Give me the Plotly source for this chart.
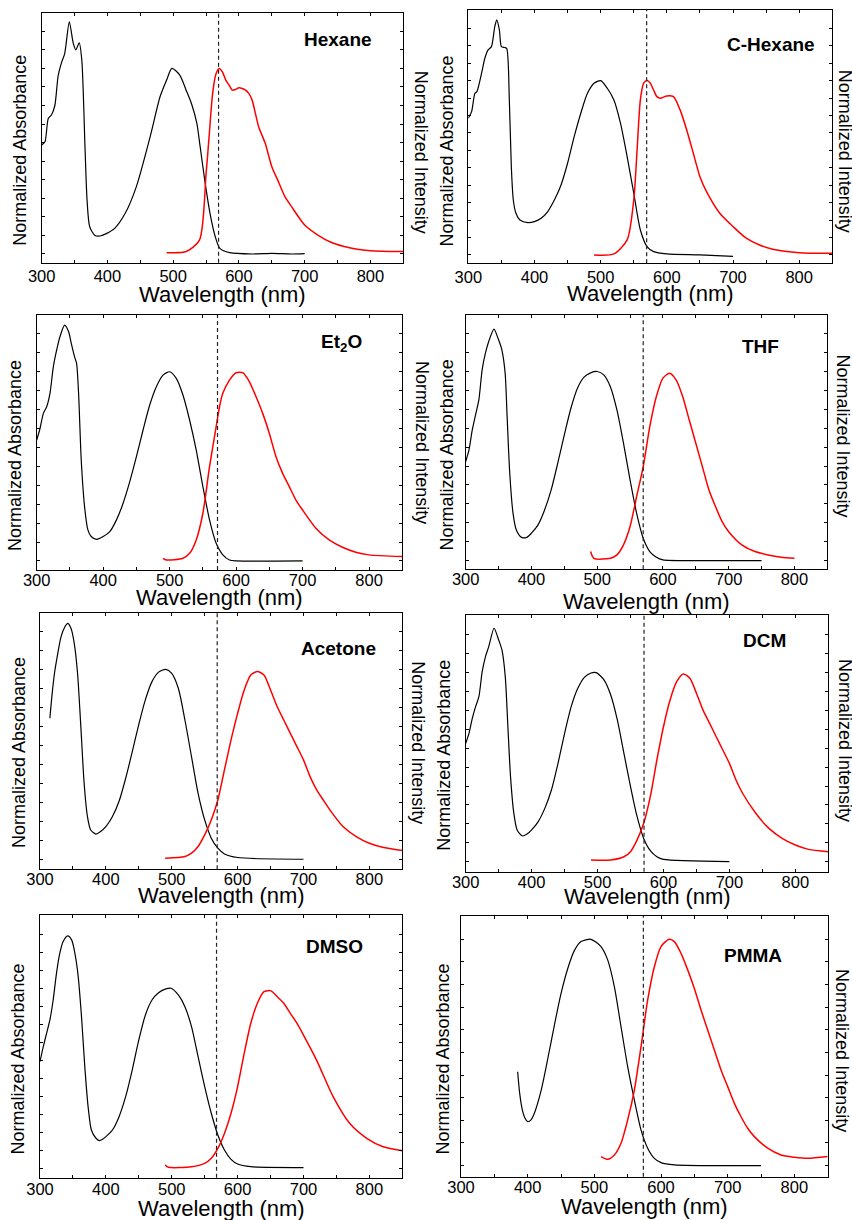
import plotly.graph_objects as go

W, H = 852, 1220

# ---------------- data ----------------
HEX_ABS_NM = [300, 305, 310, 315, 320, 325, 330, 335, 342, 348, 352, 357, 361, 366, 369, 373, 381, 389, 399, 411, 427, 444, 465, 480, 490, 498, 510, 520, 528, 536, 541, 548, 556, 564, 571, 586, 620, 650, 680, 700]
HEX_ABS = [0.587, 0.605, 0.73, 0.75, 0.80, 0.96, 1.03, 1.08, 1.251, 1.135, 1.10, 1.138, 1.045, 0.56, 0.29, 0.147, 0.10, 0.097, 0.111, 0.138, 0.219, 0.363, 0.632, 0.847, 0.937, 1.0, 0.964, 0.88, 0.808, 0.704, 0.578, 0.398, 0.219, 0.093, 0.03, 0.007, 0.0, 0.003, 0.0, 0.002]
HEX_EM_NM = [490, 520, 540, 550, 555, 560, 565, 570, 575, 580, 585, 590, 595, 600, 605, 610, 615, 620, 630, 640, 650, 660, 670, 680, 700, 720, 740, 760, 780, 800, 850]
HEX_EM = [0.007, 0.013, 0.075, 0.43, 0.65, 0.865, 0.97, 1.0, 0.98, 0.937, 0.91, 0.883, 0.887, 0.896, 0.892, 0.883, 0.865, 0.829, 0.686, 0.596, 0.47, 0.39, 0.309, 0.255, 0.156, 0.102, 0.063, 0.04, 0.025, 0.018, 0.013]

CHX_ABS_NM = [300, 305, 310, 313, 320, 325, 330, 335, 340, 343, 347, 350, 355, 358, 362, 365, 368, 372, 378, 390, 400, 410, 420, 430, 440, 450, 460, 470, 480, 490, 500, 510, 520, 530, 540, 550, 560, 570, 580, 600, 650, 700]
CHX_ABS = [0.784, 0.822, 0.927, 0.937, 1.042, 1.128, 1.176, 1.195, 1.31, 1.348, 1.29, 1.195, 1.19, 1.185, 0.889, 0.507, 0.315, 0.239, 0.2, 0.185, 0.191, 0.21, 0.249, 0.315, 0.40, 0.526, 0.679, 0.813, 0.927, 0.985, 1.0, 0.956, 0.889, 0.755, 0.564, 0.354, 0.143, 0.048, 0.019, 0.006, 0.0, -0.008]
CHX_EM_NM = [490, 520, 540, 550, 555, 560, 565, 570, 575, 580, 585, 590, 600, 610, 620, 630, 640, 650, 660, 680, 700, 720, 740, 760, 800, 850]
CHX_EM = [0.0, 0.006, 0.086, 0.315, 0.60, 0.889, 0.985, 1.0, 0.985, 0.946, 0.908, 0.899, 0.912, 0.908, 0.832, 0.717, 0.583, 0.449, 0.363, 0.239, 0.163, 0.096, 0.057, 0.033, 0.013, 0.01]

ET2O_ABS_NM = [300, 305, 310, 315, 320, 325, 330, 335, 342, 348, 352, 357, 360, 363, 367, 372, 377, 382, 390, 400, 410, 420, 430, 440, 450, 460, 470, 480, 490, 500, 510, 520, 530, 540, 550, 560, 570, 580, 590, 600, 700]
ET2O_ABS = [0.639, 0.70, 0.78, 0.815, 0.886, 1.026, 1.114, 1.185, 1.246, 1.211, 1.15, 1.079, 1.044, 0.886, 0.533, 0.287, 0.164, 0.129, 0.114, 0.129, 0.155, 0.217, 0.305, 0.419, 0.551, 0.692, 0.824, 0.921, 0.982, 1.0, 0.965, 0.877, 0.745, 0.586, 0.393, 0.217, 0.093, 0.032, 0.005, 0.0, 0.0]
ET2O_EM_NM = [490, 495, 520, 530, 540, 550, 560, 570, 575, 580, 590, 600, 610, 620, 630, 640, 650, 660, 670, 680, 690, 700, 720, 740, 760, 780, 800, 850]
ET2O_EM = [0.014, 0.005, 0.014, 0.04, 0.111, 0.252, 0.498, 0.71, 0.815, 0.886, 0.956, 0.995, 0.995, 0.947, 0.868, 0.78, 0.674, 0.551, 0.463, 0.393, 0.322, 0.269, 0.173, 0.111, 0.072, 0.046, 0.032, 0.023]

THF_ABS_NM = [300, 305, 310, 315, 320, 325, 330, 335, 343, 350, 355, 360, 363, 367, 372, 377, 385, 393, 400, 410, 420, 430, 440, 450, 460, 470, 480, 490, 500, 510, 520, 530, 540, 550, 560, 570, 580, 590, 600, 650, 750]
THF_ABS = [0.524, 0.586, 0.691, 0.771, 0.85, 1.009, 1.097, 1.159, 1.224, 1.168, 1.115, 0.991, 0.762, 0.462, 0.25, 0.162, 0.123, 0.123, 0.145, 0.189, 0.268, 0.374, 0.515, 0.665, 0.806, 0.912, 0.97, 0.993, 1.0, 0.982, 0.92, 0.797, 0.621, 0.427, 0.25, 0.118, 0.048, 0.018, 0.004, 0.0, 0.0]
THF_EM_NM = [490, 495, 520, 530, 540, 550, 560, 570, 580, 590, 600, 610, 620, 630, 640, 650, 660, 670, 680, 690, 700, 720, 740, 760, 780, 800]
THF_EM = [0.048, 0.012, 0.012, 0.03, 0.083, 0.18, 0.339, 0.497, 0.709, 0.868, 0.965, 0.991, 0.956, 0.868, 0.744, 0.621, 0.497, 0.374, 0.286, 0.206, 0.153, 0.083, 0.048, 0.03, 0.018, 0.012]

ACE_ABS_NM = [315, 318, 322, 327, 332, 338, 342, 347, 352, 357, 362, 367, 372, 377, 385, 392, 400, 410, 420, 430, 440, 450, 460, 470, 480, 491, 500, 510, 520, 530, 540, 550, 560, 570, 580, 600, 700]
ACE_ABS = [0.742, 0.856, 0.979, 1.084, 1.172, 1.225, 1.242, 1.216, 1.137, 0.979, 0.698, 0.40, 0.225, 0.154, 0.132, 0.146, 0.172, 0.225, 0.305, 0.425, 0.565, 0.71, 0.84, 0.935, 0.985, 1.0, 0.979, 0.90, 0.733, 0.54, 0.347, 0.207, 0.111, 0.058, 0.028, 0.009, 0.0]
ACE_EM_NM = [490, 520, 530, 540, 550, 560, 570, 580, 590, 600, 610, 620, 630, 640, 650, 660, 670, 680, 690, 700, 710, 720, 730, 740, 760, 780, 800, 820, 850]
ACE_EM = [0.005, 0.014, 0.032, 0.067, 0.128, 0.207, 0.312, 0.47, 0.628, 0.768, 0.891, 0.97, 0.988, 0.97, 0.891, 0.804, 0.733, 0.663, 0.593, 0.523, 0.435, 0.365, 0.312, 0.26, 0.172, 0.119, 0.084, 0.063, 0.046]

DCM_ABS_NM = [300, 305, 310, 315, 320, 325, 330, 335, 343, 350, 355, 360, 364, 368, 373, 378, 386, 393, 400, 410, 420, 430, 440, 450, 460, 470, 480, 490, 498, 510, 520, 530, 540, 550, 560, 570, 580, 590, 600, 700]
DCM_ABS = [0.626, 0.679, 0.758, 0.82, 0.873, 1.005, 1.085, 1.138, 1.235, 1.173, 1.12, 0.979, 0.714, 0.45, 0.256, 0.168, 0.136, 0.146, 0.168, 0.212, 0.282, 0.379, 0.52, 0.679, 0.82, 0.917, 0.975, 0.998, 1.0, 0.961, 0.882, 0.75, 0.573, 0.397, 0.238, 0.123, 0.058, 0.026, 0.012, 0.0]
DCM_EM_NM = [490, 520, 540, 550, 560, 570, 580, 590, 600, 610, 620, 630, 640, 650, 660, 670, 680, 690, 700, 710, 720, 740, 760, 780, 800, 820, 850]
DCM_EM = [0.009, 0.009, 0.026, 0.053, 0.115, 0.203, 0.344, 0.538, 0.714, 0.855, 0.952, 0.993, 0.97, 0.891, 0.802, 0.732, 0.661, 0.591, 0.52, 0.432, 0.362, 0.256, 0.176, 0.123, 0.088, 0.065, 0.053]

DMSO_ABS_NM = [300, 305, 310, 315, 320, 325, 330, 335, 342, 348, 353, 358, 363, 368, 373, 378, 385, 390, 395, 400, 410, 420, 430, 440, 450, 460, 470, 480, 490, 499, 510, 520, 530, 540, 550, 560, 570, 580, 590, 600, 620, 700]
DMSO_ABS = [0.593, 0.676, 0.75, 0.824, 0.935, 1.083, 1.194, 1.259, 1.291, 1.269, 1.194, 1.065, 0.843, 0.565, 0.343, 0.213, 0.167, 0.154, 0.161, 0.176, 0.213, 0.287, 0.398, 0.546, 0.713, 0.852, 0.935, 0.975, 0.995, 1.0, 0.963, 0.898, 0.787, 0.62, 0.454, 0.306, 0.185, 0.102, 0.05, 0.024, 0.009, 0.004]
DMSO_EM_NM = [490, 495, 530, 550, 560, 570, 580, 590, 600, 610, 620, 630, 640, 650, 660, 670, 680, 690, 700, 720, 745, 770, 796, 821, 850]
DMSO_EM = [0.019, 0.006, 0.009, 0.028, 0.056, 0.111, 0.194, 0.306, 0.454, 0.639, 0.806, 0.917, 0.981, 0.987, 0.954, 0.917, 0.861, 0.806, 0.74, 0.60, 0.398, 0.25, 0.167, 0.12, 0.098]

PMMA_ABS_NM = [385, 388, 392, 396, 400, 405, 410, 420, 430, 440, 450, 460, 470, 480, 495, 510, 520, 530, 540, 550, 560, 570, 580, 590, 600, 620, 750]
PMMA_ABS = [0.415, 0.32, 0.246, 0.209, 0.194, 0.202, 0.231, 0.33, 0.47, 0.62, 0.76, 0.87, 0.95, 0.99, 1.0, 0.968, 0.909, 0.791, 0.614, 0.437, 0.29, 0.158, 0.077, 0.032, 0.013, 0.003, 0.0]
PMMA_EM_NM = [510, 520, 530, 540, 550, 560, 570, 580, 590, 600, 612, 620, 630, 640, 650, 660, 670, 680, 690, 700, 710, 720, 730, 740, 760, 780, 800, 820, 850]
PMMA_EM = [0.04, 0.028, 0.047, 0.099, 0.202, 0.334, 0.526, 0.732, 0.879, 0.968, 1.0, 0.99, 0.938, 0.865, 0.783, 0.688, 0.599, 0.511, 0.423, 0.349, 0.275, 0.216, 0.165, 0.128, 0.077, 0.047, 0.037, 0.032, 0.04]

PANEL_NAMES = ["<b>Hexane</b>", "<b>C-Hexane</b>", "<b>Et<sub>2</sub>O</b>", "<b>THF</b>",
               "<b>Acetone</b>", "<b>DCM</b>", "<b>DMSO</b>", "<b>PMMA</b>"]
DASH_NM = [569, 569.5, 572, 570, 569, 570.5, 568, 573.5]
X_TICKS = [300, 350, 400, 450, 500, 550, 600, 650, 700, 750, 800]
X_TICK_TEXT = ["300", " ", "400", " ", "500", " ", "600", " ", "700", " ", "800"]

ABS_X = [HEX_ABS_NM, CHX_ABS_NM, ET2O_ABS_NM, THF_ABS_NM, ACE_ABS_NM, DCM_ABS_NM, DMSO_ABS_NM, PMMA_ABS_NM]
ABS_Y = [HEX_ABS, CHX_ABS, ET2O_ABS, THF_ABS, ACE_ABS, DCM_ABS, DMSO_ABS, PMMA_ABS]
EM_X = [HEX_EM_NM, CHX_EM_NM, ET2O_EM_NM, THF_EM_NM, ACE_EM_NM, DCM_EM_NM, DMSO_EM_NM, PMMA_EM_NM]
EM_Y = [HEX_EM, CHX_EM, ET2O_EM, THF_EM, ACE_EM, DCM_EM, DMSO_EM, PMMA_EM]

# ---------------- layout (pixel geometry) ----------------
BOXES = [(41.7, 403.3, 12.7, 262.7), (468.3, 832.3, 10.0, 263.3),
         (36.7, 402.3, 315.0, 570.0), (465.7, 827.3, 315.0, 569.3),
         (40.0, 402.3, 612.7, 869.3), (465.7, 828.3, 615.0, 871.7),
         (40.0, 402.3, 915.0, 1177.7), (461.0, 827.7, 916.0, 1176.7)]
YRANGES = [(-0.047, 1.30), (-0.048, 1.405), (-0.048, 1.30), (-0.046, 1.299),
           (-0.053, 1.298), (-0.053, 1.305), (-0.052, 1.407), (-0.049, 1.103)]
NAME_POS = [(338, 39.5), (771, 44.3), (341, 342.7), (760, 346.7),
            (338, 648.3), (764, 640), (334.5, 946.7), (753, 955)]
YL_POS = [(20, 150.8), (446.7, 150.8), (15.7, 455.3), (446.7, 454.7),
          (18.3, 752.8), (444, 755.8), (18.3, 1059.2), (443.3, 1059.2)]
YR_POS = [(421.7, 152.5), (845, 150.8), (421.7, 442.8), (843.3, 435.8),
          (418.3, 742.5), (845, 740), None, (841.7, 1050.8)]
XT_OFF = [32, 30, 27, 32, 26, 25, 30.5, 30]
LABEL_SHIFT = [-2, -1, -5, -5, -5, -5, -4, -5]

FONT = "Liberation Sans, Arial, sans-serif"

fig = go.Figure()
annotations = []
shapes = []

for i in range(8):
    L, R, T, B = BOXES[i]
    ax = "" if i == 0 else str(i + 1)
    xa, ya = "x" + ax, "y" + ax
    fig.add_trace(go.Scatter(x=ABS_X[i], y=ABS_Y[i], mode="lines", xaxis=xa, yaxis=ya,
                             line=dict(color="black", width=1.2, shape="spline", smoothing=0.7),
                             showlegend=False, hoverinfo="skip"))
    fig.add_trace(go.Scatter(x=EM_X[i], y=EM_Y[i], mode="lines", xaxis=xa, yaxis=ya,
                             line=dict(color="#ff0000", width=1.5, shape="spline", smoothing=0.7),
                             showlegend=False, hoverinfo="skip"))
    y0, y1 = YRANGES[i]
    yt = [round(0.1 * k, 1) for k in range(0, 15) if 0.1 * k < y1 - 0.01]
    fig.update_layout(**{
        "xaxis" + ax: dict(domain=[L / W, R / W], anchor=ya, range=[300, 850], automargin=False,
                           tickvals=X_TICKS, ticktext=X_TICK_TEXT, ticks="inside", ticklen=3,
                           tickcolor="black", showline=True, linecolor="black", linewidth=1,
                           mirror="ticks", showgrid=False, zeroline=False,
                           ticklabelstandoff=LABEL_SHIFT[i],
                           tickfont=dict(family=FONT, size=16.5, color="black")),
        "yaxis" + ax: dict(domain=[1 - B / H, 1 - T / H], anchor=xa, range=[y0, y1], automargin=False,
                           tickvals=yt, showticklabels=False, ticks="inside", ticklen=3,
                           tickcolor="black", showline=True, linecolor="black", linewidth=1,
                           mirror="ticks", showgrid=False, zeroline=False),
    })
    shapes.append(dict(type="line", xref=xa, yref=ya + " domain", x0=DASH_NM[i], x1=DASH_NM[i],
                       y0=0, y1=1, line=dict(color="#222", width=1.2, dash="4px,3px")))
    nx, ny = NAME_POS[i]
    annotations.append(dict(text=PANEL_NAMES[i], x=nx / W, y=1 - ny / H, xref="paper", yref="paper",
                            showarrow=False, xanchor="center", yanchor="middle",
                            font=dict(family=FONT, size=19, color="black")))
    lx, ly = YL_POS[i]
    annotations.append(dict(text="Normalized Absorbance", x=lx / W, y=1 - ly / H, xref="paper",
                            yref="paper", showarrow=False, textangle=-90, xanchor="center",
                            yanchor="middle", font=dict(family=FONT, size=18, color="black")))
    if YR_POS[i] is not None:
        rx, ry = YR_POS[i]
        annotations.append(dict(text="Normalized Intensity", x=rx / W, y=1 - ry / H, xref="paper",
                                yref="paper", showarrow=False, textangle=90, xanchor="center",
                                yanchor="middle", font=dict(family=FONT, size=18, color="black")))
    annotations.append(dict(text="Wavelength (nm)", x=(L + R) / 2 / W, y=1 - (B + XT_OFF[i]) / H,
                            xref="paper", yref="paper", showarrow=False, xanchor="center",
                            yanchor="middle", font=dict(family=FONT, size=22, color="black")))

fig.update_layout(width=W, height=H, margin=dict(l=0, r=0, t=0, b=0, autoexpand=False),
                  paper_bgcolor="white", plot_bgcolor="white",
                  annotations=annotations, shapes=shapes, font=dict(family=FONT))
fig.write_html("out.html")
